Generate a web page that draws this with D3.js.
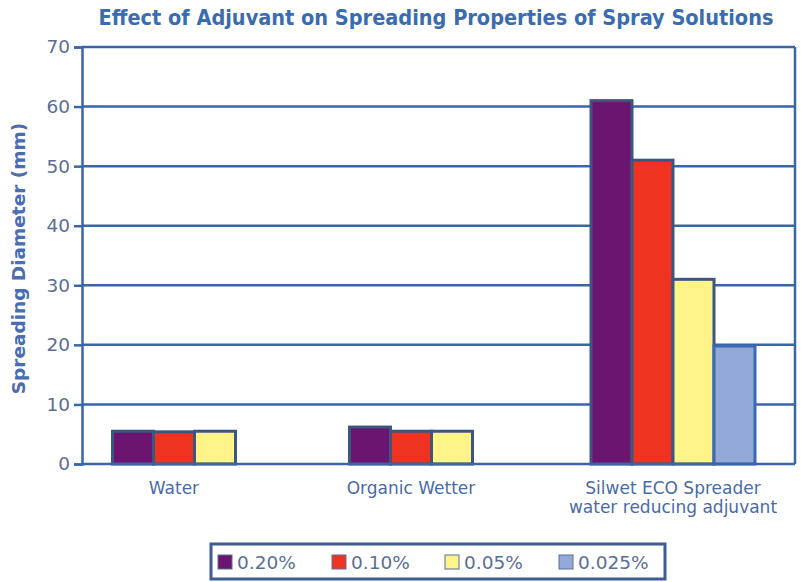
<!DOCTYPE html>
<html>
<head>
<meta charset="utf-8">
<script src="https://cdn.jsdelivr.net/npm/d3@7"></script>
<style>
  body { margin: 0; background: #fff; }
  svg { display: block; font-family: Tahoma, "DejaVu Sans", sans-serif; }
</style>
</head>
<body>
<div class="spray-chart"></div>
<script>
const categories = ["Water", "Organic Wetter", "Silwet ECO Spreader\nwater reducing adjuvant"];
const seriesNames = ["0.20%", "0.10%", "0.05%", "0.025%"];
const s020 = [5.5, 6.2, 61];
const s010 = [5.4, 5.5, 51];
const s005 = [5.5, 5.5, 31];
const s0025 = [null, null, 19.8];
const yTicks = [0, 10, 20, 30, 40, 50, 60, 70];

const colors = ["#6b1470", "#ee3420", "#fff48a", "#93a9d7"];
const seriesValues = [s020, s010, s005, s0025];

const width = 801, height = 582;
const margin = {top: 47, right: 6, bottom: 118, left: 82};

const svg = d3.select(".spray-chart").append("svg")
    .attr("width", width)
    .attr("height", height);

const y = d3.scaleLinear()
    .domain([0, 70])
    .range([height - margin.bottom, margin.top]);

// category centres are not evenly spaced in the original
const x = d3.scaleOrdinal()
    .domain(categories)
    .range([174, 411, 673]);

const barWidth = 41;

// gridlines
svg.append("g")
    .selectAll("line")
    .data(yTicks.filter(d => d > 0))
    .join("line")
    .attr("x1", margin.left)
    .attr("x2", width - margin.right)
    .attr("y1", d => y(d))
    .attr("y2", d => y(d))
    .attr("stroke", "#3a66a8")
    .attr("stroke-width", 2.5);

// right border
svg.append("line")
    .attr("x1", width - margin.right).attr("x2", width - margin.right)
    .attr("y1", y(70)).attr("y2", y(0))
    .attr("stroke", "#3a66a8")
    .attr("stroke-width", 2.5);

// bars
categories.forEach((cat, i) => {
    const present = seriesValues.map((s, k) => ({k, v: s[i]})).filter(d => d.v != null);
    const start = x(cat) - present.length * barWidth / 2;
    svg.append("g")
        .selectAll("rect")
        .data(present)
        .join("rect")
        .attr("x", (d, j) => start + j * barWidth)
        .attr("y", d => y(d.v))
        .attr("width", barWidth)
        .attr("height", d => y(0) - y(d.v))
        .attr("fill", d => colors[d.k])
        .attr("stroke", d => d.k === 3 ? "#3b69b4" : "#3d5680")
        .attr("stroke-width", 3);
});

// y axis
const yAxis = g => g
    .attr("transform", `translate(${margin.left},0)`)
    .call(d3.axisLeft(y).tickValues(yTicks).tickSize(8).tickPadding(4))
    .call(g => g.select(".domain").attr("stroke", "#3a66a8").attr("stroke-width", 2.5))
    .call(g => g.selectAll(".tick line").attr("stroke", "#3a66a8").attr("stroke-width", 2.5))
    .call(g => g.selectAll(".tick text")
        .attr("fill", "#5a6e95")
        .attr("font-size", 18.5)
        .attr("font-family", "'DejaVu Sans', sans-serif"));

svg.append("g").call(yAxis);

// x axis baseline
svg.append("line")
    .attr("x1", margin.left).attr("x2", width - margin.right)
    .attr("y1", y(0)).attr("y2", y(0))
    .attr("stroke", "#3a66a8")
    .attr("stroke-width", 2.5);

// category labels
svg.append("g")
    .selectAll("text")
    .data(categories)
    .join("text")
    .attr("x", d => x(d))
    .attr("y", 494)
    .attr("text-anchor", "middle")
    .attr("fill", "#4a6aa8")
    .attr("font-size", 17)
    .attr("font-family", "'DejaVu Sans', sans-serif")
    .each(function(d) {
        d.split("\n").forEach((line, j) => {
            d3.select(this).append("tspan")
                .attr("x", x(d))
                .attr("dy", j === 0 ? 0 : 19)
                .text(line);
        });
    });

// title
svg.append("text")
    .attr("x", 436)
    .attr("y", 25)
    .attr("text-anchor", "middle")
    .attr("fill", "#3a6cb0")
    .attr("font-weight", "bold")
    .attr("font-size", 21.5)
    .attr("font-family", "'DejaVu Sans Condensed', 'DejaVu Sans', sans-serif")
    .text("Effect of Adjuvant on Spreading Properties of Spray Solutions");

// y label
svg.append("text")
    .attr("transform", `translate(25,${(y(0) + y(70)) / 2 + 3}) rotate(-90)`)
    .attr("text-anchor", "middle")
    .attr("fill", "#4a6cb0")
    .attr("font-weight", "bold")
    .attr("font-size", 18.5)
    .attr("font-family", "'DejaVu Sans', sans-serif")
    .text("Spreading Diameter (mm)");

// legend
const legend = svg.append("g");
legend.append("rect")
    .attr("x", 211).attr("y", 544)
    .attr("width", 454).attr("height", 35)
    .attr("fill", "#fff")
    .attr("stroke", "#3d5c92")
    .attr("stroke-width", 3);

const legendX = [218, 332, 445, 559];
const item = legend.selectAll("g.item")
    .data(seriesNames)
    .join("g")
    .attr("class", "item")
    .attr("transform", (d, i) => `translate(${legendX[i]},555)`);

item.append("rect")
    .attr("width", 14).attr("height", 14)
    .attr("fill", (d, i) => colors[i])
    .attr("stroke", "#5a6e95")
    .attr("stroke-width", 1);

item.append("text")
    .attr("x", 19)
    .attr("y", 14)
    .attr("fill", "#5a6e95")
    .attr("font-size", 18.5)
    .attr("font-family", "'DejaVu Sans', sans-serif")
    .text(d => d);
</script>
</body>
</html>
